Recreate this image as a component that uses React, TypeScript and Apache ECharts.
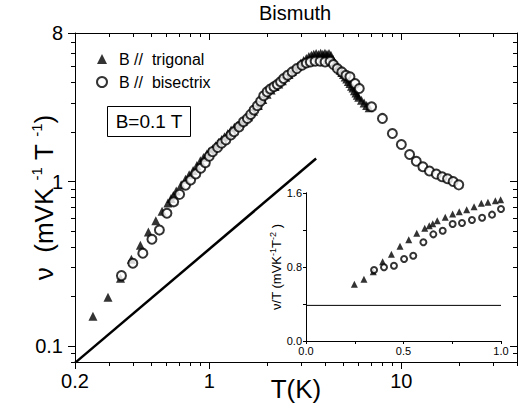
import React, { useEffect, useRef } from "react";
import * as echarts from "echarts";

// ---- data ----
// B // trigonal : T (K), nu (mV K^-1 T^-1)
const trigT = [
  0.248, 0.297, 0.345, 0.393, 0.438, 0.482, 0.527, 0.568, 0.609, 0.632, 0.65, 0.673, 0.714, 0.752, 0.786,
  0.824, 0.862, 0.899, 0.933, 0.971, 0.998,
  1.04, 1.08, 1.12, 1.16, 1.2, 1.25, 1.3, 1.35, 1.4, 1.45, 1.5, 1.6, 1.7, 1.8, 1.9, 2.0, 2.1, 2.2, 2.3, 2.4,
  2.5, 2.6, 2.7, 2.8, 2.9, 3.0, 3.1, 3.2, 3.3, 3.4, 3.5, 3.6, 3.7, 3.8, 3.9, 4.0, 4.1, 4.2, 4.3, 4.4, 4.5,
  4.6, 4.7, 4.8, 4.9, 5.0, 5.1, 5.2, 5.3, 5.4, 5.5, 5.6, 5.7, 5.8, 5.9, 6.0, 6.2, 6.4, 6.6, 6.8,
];
const trigNu = [
  0.152, 0.198, 0.258, 0.337, 0.41, 0.494, 0.577, 0.661, 0.742, 0.788, 0.824, 0.875, 0.955, 1.032, 1.099,
  1.169, 1.252, 1.339, 1.4, 1.473, 1.525,
  1.58, 1.65, 1.73, 1.8, 1.87, 1.96, 2.06, 2.14, 2.2, 2.25, 2.33, 2.48, 2.68, 2.9, 3.15, 3.4, 3.6, 3.78, 3.92,
  4.1, 4.3, 4.48, 4.66, 4.85, 5.05, 5.25, 5.45, 5.6, 5.75, 5.85, 5.95, 6.0, 5.92, 6.02, 5.95, 6.02, 5.95, 6.0,
  5.85, 5.55, 5.3, 5.1, 4.92, 4.75, 4.6, 4.48, 4.32, 4.2, 4.06, 3.94, 3.8, 3.7, 3.56, 3.45, 3.35, 3.25, 3.12,
  3.0, 2.9, 2.81,
];
// B // bisectrix
const bisT = [
  0.349, 0.4, 0.451, 0.503, 0.55, 0.602, 0.653, 0.701, 0.752, 0.8, 0.851, 0.903, 0.954, 1.0,
  1.041, 1.105, 1.159, 1.22, 1.295, 1.346, 1.429, 1.506, 1.58, 1.643, 1.71, 1.78, 1.85, 1.92, 2.0, 2.08,
  2.17, 2.26, 2.35, 2.44, 2.56, 2.7, 2.86, 3.04, 3.2, 3.36, 3.56, 3.78, 4.01, 4.26, 4.43, 4.64, 4.9, 5.15,
  5.4, 5.74, 6.04, 7.0, 7.97, 8.98, 10.0, 11.04, 11.96, 12.94, 14.0, 15.2, 16.3, 17.4, 18.6, 19.9,
];
const bisNu = [
  0.268, 0.319, 0.367, 0.446, 0.507, 0.642, 0.753, 0.836, 0.951, 1.021, 1.113, 1.204, 1.303, 1.427,
  1.52, 1.61, 1.71, 1.79, 1.92, 2.01, 2.15, 2.31, 2.42, 2.56, 2.72, 2.89, 3.08, 3.32, 3.51, 3.65,
  3.77, 3.89, 4.04, 4.23, 4.43, 4.64, 4.86, 5.1, 5.26, 5.34, 5.39, 5.39, 5.34, 5.39, 5.14, 4.86, 4.64, 4.43,
  4.33, 3.94, 3.68, 2.85, 2.42, 1.96, 1.68, 1.46, 1.33, 1.23, 1.16, 1.11, 1.07, 1.04, 1.0, 0.955,
];
// straight reference line (nu proportional to T)
const lineT = [0.2, 3.6];
const lineNu = [0.079, 1.38];

// inset: nu/T (mV K^-1 T^-2) vs T (K)
const insetTrigT = [
  0.248, 0.297, 0.345, 0.393, 0.438, 0.482, 0.527, 0.568, 0.609, 0.632, 0.65, 0.673, 0.714, 0.752, 0.786,
  0.824, 0.862, 0.899, 0.933, 0.971, 0.998,
];
const insetTrigV = [
  0.613, 0.667, 0.749, 0.857, 0.937, 1.024, 1.095, 1.164, 1.218, 1.247, 1.268, 1.3, 1.337, 1.373, 1.398,
  1.419, 1.452, 1.489, 1.5, 1.517, 1.528,
];
const insetBisT = [0.349, 0.4, 0.451, 0.503, 0.55, 0.602, 0.653, 0.701, 0.752, 0.8, 0.851, 0.903, 0.954, 1.0];
const insetBisV = [0.768, 0.797, 0.814, 0.886, 0.922, 1.067, 1.153, 1.192, 1.265, 1.276, 1.308, 1.333, 1.366, 1.427];
const insetLineT = [0, 1];
const insetLineV = [0.385, 0.385];

// tick values
const xMajor = [0.2, 1, 10];
const xMinor = [0.3, 0.4, 0.5, 0.6, 0.7, 0.8, 0.9, 2, 3, 4, 5, 6, 7, 8, 9, 20, 30, 40];
const yMajor = [0.1, 1, 8];
const yMinor = [0.08, 0.09, 0.2, 0.3, 0.4, 0.5, 0.6, 0.7, 0.8, 0.9, 2, 3, 4, 5, 6, 7];
const insetXTicks = [0, 0.25, 0.5, 0.75, 1];
const insetXLabels = [0, 0.5, 1];
const insetYTicks = [0, 0.4, 0.8, 1.2, 1.6];
const insetYLabels = [0, 0.8, 1.6];

const FONT = "Liberation Sans, Arial, Helvetica, sans-serif";
const zip = (a: number[], b: number[]) => a.map((v, i) => [v, b[i]]);
const fmt = (v: number) => String(Number(v.toPrecision(3)));

export default function App() {
  const ref = useRef<HTMLDivElement>(null);
  useEffect(() => {
    if (!ref.current) return;
    const chart = echarts.init(ref.current, undefined, { renderer: "svg" });
    const black = "#000";
    const line = { show: true, lineStyle: { color: black, width: 1 } };
    const noLine = { show: false };
    const noLabel = { show: false };

    const logX = (extra: any) => ({
      type: "log",
      gridIndex: 0,
      min: 0.2,
      max: 40,
      splitLine: { show: false },
      ...extra,
    });
    const logY = (extra: any) => ({
      type: "log",
      gridIndex: 0,
      min: 0.08,
      max: 8,
      splitLine: { show: false },
      ...extra,
    });

    const option: any = {
      animation: false,
      backgroundColor: "#fff",
      textStyle: { fontFamily: FONT, color: black },
      title: {
        text: "Bismuth",
        left: 259,
        top: 3,
        padding: 0,
        textStyle: { fontFamily: FONT, fontSize: 20, fontWeight: "normal", color: black },
      },
      legend: {
        orient: "vertical",
        left: 91,
        top: 46,
        itemWidth: 10,
        itemHeight: 10,
        itemGap: 7,
        data: ["B //  trigonal", "B //  bisectrix"],
        textStyle: { fontFamily: FONT, fontSize: 16, color: black, padding: [0, 0, 0, 7] },
      },
      grid: [
        { left: 75, top: 33, width: 442, height: 329, show: false, containLabel: false, outerBoundsMode: "none" },
        {
          left: 306,
          top: 193,
          width: 195,
          height: 148,
          show: true,
          backgroundColor: "#fff",
          borderWidth: 0,
          containLabel: false,
          outerBoundsMode: "none",
          z: 3,
        },
      ],
      xAxis: [
        logX({
          position: "bottom",
          axisLine: line,
          axisTick: { show: true, inside: false, length: 7, customValues: xMajor, lineStyle: { color: black } },
          axisLabel: { customValues: xMajor, fontSize: 20, margin: 9, color: black, fontFamily: FONT, formatter: fmt },
          name: "T(K)",
          nameLocation: "middle",
          nameGap: 14,
          nameMoveOverlap: false,
          nameTextStyle: { fontSize: 26, color: black, fontFamily: FONT, verticalAlign: "top" },
        }),
        logX({
          position: "bottom",
          axisLine: noLine,
          axisTick: { show: true, inside: false, length: 4, customValues: xMinor, lineStyle: { color: black } },
          axisLabel: noLabel,
        }),
        logX({
          position: "top",
          axisLine: line,
          axisTick: { show: true, inside: true, length: 7, customValues: xMajor, lineStyle: { color: black } },
          axisLabel: noLabel,
        }),
        logX({
          position: "top",
          axisLine: noLine,
          axisTick: { show: true, inside: true, length: 4, customValues: xMinor, lineStyle: { color: black } },
          axisLabel: noLabel,
        }),
        {
          type: "value",
          gridIndex: 1,
          min: 0,
          max: 1,
          interval: 0.25,
          position: "bottom",
          splitLine: { show: false },
          axisLine: line,
          axisTick: { show: true, inside: false, length: 3, customValues: insetXTicks, lineStyle: { color: black } },
          axisLabel: {
            customValues: insetXLabels,
            fontSize: 11,
            margin: 4,
            color: black,
            fontFamily: FONT,
            formatter: (v: number) => v.toFixed(1),
          },
          z: 4,
        },
        {
          type: "value",
          gridIndex: 1,
          min: 0,
          max: 1,
          interval: 0.25,
          position: "top",
          splitLine: { show: false },
          axisLine: line,
          axisTick: { show: true, inside: true, length: 3, customValues: insetXTicks, lineStyle: { color: black } },
          axisLabel: noLabel,
          z: 4,
        },
      ],
      yAxis: [
        logY({
          position: "left",
          axisLine: line,
          axisTick: { show: true, inside: false, length: 7, customValues: yMajor, lineStyle: { color: black } },
          axisLabel: { customValues: yMajor, fontSize: 20, margin: 12, color: black, fontFamily: FONT, formatter: fmt },
          name: "{a|ν  (mVK }{s|-1}{a| T }{s|-1}{a|)}",
          nameLocation: "middle",
          nameGap: 16,
          nameMoveOverlap: false,
          nameTextStyle: {
            color: black,
            fontFamily: FONT,
            rich: {
              a: { fontSize: 26, lineHeight: 30, fontFamily: FONT, color: black },
              s: { fontSize: 15, lineHeight: 15, verticalAlign: "top", fontFamily: FONT, color: black },
            },
          },
        }),
        logY({
          position: "left",
          axisLine: noLine,
          axisTick: { show: true, inside: false, length: 4, customValues: yMinor, lineStyle: { color: black } },
          axisLabel: noLabel,
        }),
        logY({
          position: "right",
          axisLine: line,
          axisTick: { show: true, inside: true, length: 7, customValues: yMajor, lineStyle: { color: black } },
          axisLabel: noLabel,
        }),
        logY({
          position: "right",
          axisLine: noLine,
          axisTick: { show: true, inside: true, length: 4, customValues: yMinor, lineStyle: { color: black } },
          axisLabel: noLabel,
        }),
        {
          type: "value",
          gridIndex: 1,
          min: 0,
          max: 1.6,
          interval: 0.4,
          position: "left",
          splitLine: { show: false },
          axisLine: line,
          axisTick: { show: true, inside: false, length: 3, customValues: insetYTicks, lineStyle: { color: black } },
          axisLabel: {
            customValues: insetYLabels,
            fontSize: 11,
            margin: 4,
            color: black,
            fontFamily: FONT,
            formatter: (v: number) => v.toFixed(1),
          },
          name: "{a|ν/T (mVK}{s|-1}{a|T}{s|-2}{a| )}",
          nameLocation: "middle",
          nameGap: 22,
          nameMoveOverlap: false,
          nameTextStyle: {
            color: black,
            fontFamily: FONT,
            rich: {
              a: { fontSize: 13, lineHeight: 16, fontFamily: FONT, color: black },
              s: { fontSize: 9, lineHeight: 9, verticalAlign: "top", fontFamily: FONT, color: black },
            },
          },
          z: 4,
        },
        {
          type: "value",
          gridIndex: 1,
          min: 0,
          max: 1.6,
          interval: 0.4,
          position: "right",
          splitLine: { show: false },
          axisLine: line,
          axisTick: { show: true, inside: true, length: 3, customValues: insetYTicks, lineStyle: { color: black } },
          axisLabel: noLabel,
          z: 4,
        },
      ],
      series: [
        {
          name: "line",
          type: "line",
          xAxisIndex: 0,
          yAxisIndex: 0,
          data: zip(lineT, lineNu),
          symbol: "none",
          lineStyle: { color: black, width: 2.5 },
          silent: true,
        },
        {
          name: "B //  trigonal",
          type: "scatter",
          xAxisIndex: 0,
          yAxisIndex: 0,
          data: zip(trigT, trigNu),
          symbol: "triangle",
          symbolSize: 9,
          itemStyle: { color: black },
        },
        {
          name: "B //  bisectrix",
          type: "scatter",
          xAxisIndex: 0,
          yAxisIndex: 0,
          data: zip(bisT, bisNu),
          symbol: "emptyCircle",
          symbolSize: 9,
          itemStyle: { color: black, borderWidth: 0.9 },
        },
        {
          name: "inset line",
          type: "line",
          xAxisIndex: 4,
          yAxisIndex: 4,
          data: zip(insetLineT, insetLineV),
          symbol: "none",
          lineStyle: { color: black, width: 1 },
          z: 5,
        },
        {
          name: "inset trigonal",
          type: "scatter",
          xAxisIndex: 4,
          yAxisIndex: 4,
          data: zip(insetTrigT, insetTrigV),
          symbol: "triangle",
          symbolSize: 7,
          itemStyle: { color: black },
          z: 5,
        },
        {
          name: "inset bisectrix",
          type: "scatter",
          xAxisIndex: 4,
          yAxisIndex: 4,
          data: zip(insetBisT, insetBisV),
          symbol: "emptyCircle",
          symbolSize: 6,
          itemStyle: { color: black, borderWidth: 0.8 },
          z: 5,
        },
      ],
      graphic: [
        {
          type: "rect",
          shape: { x: 107.5, y: 106.5, width: 83, height: 30 },
          style: { fill: "#fff", stroke: black, lineWidth: 1 },
        },
        {
          type: "text",
          x: 149,
          y: 121.5,
          style: {
            text: "B=0.1 T",
            fontSize: 19,
            fontFamily: FONT,
            fill: black,
            textAlign: "center",
            textVerticalAlign: "middle",
          },
        },
      ],
    };
    chart.setOption(option);
    return () => chart.dispose();
  }, []);
  return (
    <div
      ref={ref}
      style={{ position: "absolute", left: 0, top: 0, width: 521, height: 403 }}
    />
  );
}
